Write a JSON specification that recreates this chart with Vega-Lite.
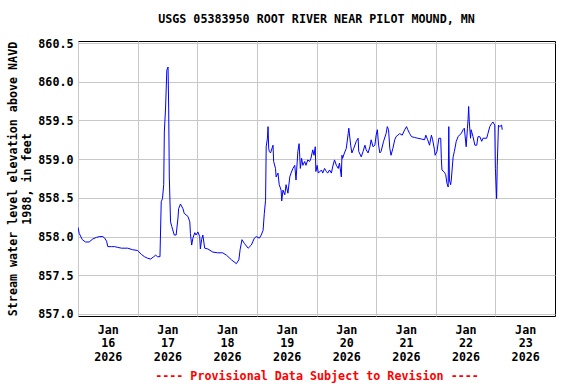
{
  "$schema": "https://vega.github.io/schema/vega-lite/v6.json",
  "autosize": {"type": "none"},
  "padding": {"left": 78, "top": 41, "right": 21, "bottom": 68},
  "width": 477,
  "height": 275,
  "background": "white",
  "title": {
    "text": "USGS 05383950 ROOT RIVER NEAR PILOT MOUND, MN",
    "font": "DejaVu Sans Mono",
    "fontSize": 11.7,
    "fontWeight": "bold",
    "color": "black",
    "offset": 12,
    "anchor": "middle"
  },
  "config": {
    "view": {"stroke": "black", "strokeWidth": 1},
    "axis": {
      "labelFont": "DejaVu Sans Mono",
      "labelFontWeight": "bold",
      "labelFontSize": 11.7,
      "labelColor": "black",
      "titleFont": "DejaVu Sans Mono",
      "titleFontWeight": "bold",
      "titleFontSize": 11.7,
      "titleColor": "black",
      "gridColor": "#c8c8c8",
      "gridWidth": 1,
      "gridOpacity": 1,
      "domain": false,
      "ticks": false
    }
  },
  "data": {
    "values": [
      {"t": "2026-01-16T00:00", "v": 858.12},
      {"t": "2026-01-16T00:30", "v": 858.04},
      {"t": "2026-01-16T01:45", "v": 857.96},
      {"t": "2026-01-16T03:00", "v": 857.93},
      {"t": "2026-01-16T04:30", "v": 857.93},
      {"t": "2026-01-16T06:00", "v": 857.97},
      {"t": "2026-01-16T07:30", "v": 857.99},
      {"t": "2026-01-16T08:45", "v": 858.0},
      {"t": "2026-01-16T10:00", "v": 858.0},
      {"t": "2026-01-16T10:45", "v": 857.98},
      {"t": "2026-01-16T11:30", "v": 857.94},
      {"t": "2026-01-16T12:00", "v": 857.87},
      {"t": "2026-01-16T13:30", "v": 857.87},
      {"t": "2026-01-16T14:45", "v": 857.87},
      {"t": "2026-01-16T16:00", "v": 857.86},
      {"t": "2026-01-16T17:30", "v": 857.85},
      {"t": "2026-01-16T20:00", "v": 857.85},
      {"t": "2026-01-16T22:00", "v": 857.83},
      {"t": "2026-01-17T00:00", "v": 857.82},
      {"t": "2026-01-17T01:30", "v": 857.77},
      {"t": "2026-01-17T02:45", "v": 857.74},
      {"t": "2026-01-17T04:00", "v": 857.72},
      {"t": "2026-01-17T05:15", "v": 857.71},
      {"t": "2026-01-17T06:30", "v": 857.74},
      {"t": "2026-01-17T07:15", "v": 857.76},
      {"t": "2026-01-17T08:00", "v": 857.74},
      {"t": "2026-01-17T09:00", "v": 857.74},
      {"t": "2026-01-17T09:30", "v": 858.45},
      {"t": "2026-01-17T10:00", "v": 858.49},
      {"t": "2026-01-17T10:30", "v": 858.67},
      {"t": "2026-01-17T10:45", "v": 859.35},
      {"t": "2026-01-17T11:15", "v": 859.66},
      {"t": "2026-01-17T11:45", "v": 860.15},
      {"t": "2026-01-17T12:15", "v": 860.19},
      {"t": "2026-01-17T12:30", "v": 859.66},
      {"t": "2026-01-17T12:45", "v": 858.77},
      {"t": "2026-01-17T13:15", "v": 858.19},
      {"t": "2026-01-17T13:45", "v": 858.13},
      {"t": "2026-01-17T14:45", "v": 858.02},
      {"t": "2026-01-17T15:30", "v": 858.02},
      {"t": "2026-01-17T16:15", "v": 858.24},
      {"t": "2026-01-17T16:30", "v": 858.36},
      {"t": "2026-01-17T17:15", "v": 858.42},
      {"t": "2026-01-17T18:15", "v": 858.36},
      {"t": "2026-01-17T18:45", "v": 858.3},
      {"t": "2026-01-17T20:15", "v": 858.26},
      {"t": "2026-01-17T21:00", "v": 858.19},
      {"t": "2026-01-17T21:15", "v": 858.04},
      {"t": "2026-01-17T21:45", "v": 857.89},
      {"t": "2026-01-17T22:15", "v": 857.98},
      {"t": "2026-01-17T23:00", "v": 858.05},
      {"t": "2026-01-17T23:30", "v": 858.02},
      {"t": "2026-01-18T00:15", "v": 858.06},
      {"t": "2026-01-18T01:00", "v": 858.0},
      {"t": "2026-01-18T01:15", "v": 857.84},
      {"t": "2026-01-18T01:45", "v": 857.96},
      {"t": "2026-01-18T02:15", "v": 858.02},
      {"t": "2026-01-18T03:00", "v": 857.85},
      {"t": "2026-01-18T04:15", "v": 857.84},
      {"t": "2026-01-18T06:15", "v": 857.8},
      {"t": "2026-01-18T08:15", "v": 857.79},
      {"t": "2026-01-18T10:15", "v": 857.79},
      {"t": "2026-01-18T11:45", "v": 857.76},
      {"t": "2026-01-18T13:45", "v": 857.7},
      {"t": "2026-01-18T15:45", "v": 857.65},
      {"t": "2026-01-18T16:45", "v": 857.7},
      {"t": "2026-01-18T17:15", "v": 857.83},
      {"t": "2026-01-18T18:00", "v": 857.96},
      {"t": "2026-01-18T19:00", "v": 857.91},
      {"t": "2026-01-18T20:30", "v": 857.85},
      {"t": "2026-01-18T21:45", "v": 857.89},
      {"t": "2026-01-18T23:00", "v": 857.98},
      {"t": "2026-01-18T23:45", "v": 858.0},
      {"t": "2026-01-19T01:00", "v": 857.98},
      {"t": "2026-01-19T01:45", "v": 858.02},
      {"t": "2026-01-19T02:30", "v": 858.08},
      {"t": "2026-01-19T03:00", "v": 858.3},
      {"t": "2026-01-19T03:30", "v": 858.47},
      {"t": "2026-01-19T03:45", "v": 859.16},
      {"t": "2026-01-19T04:15", "v": 859.27},
      {"t": "2026-01-19T04:30", "v": 859.42},
      {"t": "2026-01-19T04:45", "v": 859.14},
      {"t": "2026-01-19T05:00", "v": 859.1},
      {"t": "2026-01-19T05:30", "v": 859.08},
      {"t": "2026-01-19T06:30", "v": 859.18},
      {"t": "2026-01-19T06:45", "v": 858.97},
      {"t": "2026-01-19T07:30", "v": 858.88},
      {"t": "2026-01-19T07:45", "v": 858.77},
      {"t": "2026-01-19T08:30", "v": 858.82},
      {"t": "2026-01-19T09:00", "v": 858.67},
      {"t": "2026-01-19T09:45", "v": 858.6},
      {"t": "2026-01-19T10:00", "v": 858.46},
      {"t": "2026-01-19T10:30", "v": 858.6},
      {"t": "2026-01-19T11:15", "v": 858.54},
      {"t": "2026-01-19T11:45", "v": 858.67},
      {"t": "2026-01-19T12:30", "v": 858.56},
      {"t": "2026-01-19T13:15", "v": 858.77},
      {"t": "2026-01-19T13:45", "v": 858.82},
      {"t": "2026-01-19T14:30", "v": 858.88},
      {"t": "2026-01-19T15:15", "v": 858.92},
      {"t": "2026-01-19T15:45", "v": 858.73},
      {"t": "2026-01-19T16:30", "v": 859.1},
      {"t": "2026-01-19T17:00", "v": 859.2},
      {"t": "2026-01-19T17:30", "v": 858.88},
      {"t": "2026-01-19T18:00", "v": 859.01},
      {"t": "2026-01-19T18:30", "v": 858.92},
      {"t": "2026-01-19T19:15", "v": 858.97},
      {"t": "2026-01-19T19:45", "v": 858.92},
      {"t": "2026-01-19T20:30", "v": 858.99},
      {"t": "2026-01-19T21:15", "v": 858.97},
      {"t": "2026-01-19T21:45", "v": 859.01},
      {"t": "2026-01-19T22:30", "v": 859.12},
      {"t": "2026-01-19T23:00", "v": 859.05},
      {"t": "2026-01-19T23:30", "v": 859.16},
      {"t": "2026-01-19T23:45", "v": 858.84},
      {"t": "2026-01-20T00:15", "v": 858.92},
      {"t": "2026-01-20T00:45", "v": 858.82},
      {"t": "2026-01-20T02:00", "v": 858.86},
      {"t": "2026-01-20T02:30", "v": 858.82},
      {"t": "2026-01-20T03:15", "v": 858.88},
      {"t": "2026-01-20T04:00", "v": 858.84},
      {"t": "2026-01-20T04:30", "v": 858.82},
      {"t": "2026-01-20T05:15", "v": 858.86},
      {"t": "2026-01-20T06:00", "v": 858.82},
      {"t": "2026-01-20T06:30", "v": 858.9},
      {"t": "2026-01-20T07:15", "v": 858.99},
      {"t": "2026-01-20T08:00", "v": 858.92},
      {"t": "2026-01-20T08:45", "v": 858.88},
      {"t": "2026-01-20T09:15", "v": 858.95},
      {"t": "2026-01-20T10:00", "v": 858.77},
      {"t": "2026-01-20T10:15", "v": 859.05},
      {"t": "2026-01-20T10:30", "v": 859.01},
      {"t": "2026-01-20T11:15", "v": 859.08},
      {"t": "2026-01-20T12:00", "v": 859.14},
      {"t": "2026-01-20T12:45", "v": 859.33},
      {"t": "2026-01-20T13:00", "v": 859.4},
      {"t": "2026-01-20T13:45", "v": 859.18},
      {"t": "2026-01-20T14:15", "v": 859.08},
      {"t": "2026-01-20T15:00", "v": 859.14},
      {"t": "2026-01-20T16:00", "v": 859.23},
      {"t": "2026-01-20T16:45", "v": 859.27},
      {"t": "2026-01-20T17:00", "v": 859.1},
      {"t": "2026-01-20T18:00", "v": 859.03},
      {"t": "2026-01-20T18:45", "v": 859.1},
      {"t": "2026-01-20T19:30", "v": 859.18},
      {"t": "2026-01-20T20:00", "v": 859.12},
      {"t": "2026-01-20T20:45", "v": 859.08},
      {"t": "2026-01-20T21:30", "v": 859.16},
      {"t": "2026-01-20T22:00", "v": 859.25},
      {"t": "2026-01-20T22:45", "v": 859.16},
      {"t": "2026-01-20T23:30", "v": 859.18},
      {"t": "2026-01-21T00:00", "v": 859.31},
      {"t": "2026-01-21T00:30", "v": 859.38},
      {"t": "2026-01-21T01:00", "v": 859.18},
      {"t": "2026-01-21T01:30", "v": 859.08},
      {"t": "2026-01-21T02:00", "v": 859.1},
      {"t": "2026-01-21T03:00", "v": 859.23},
      {"t": "2026-01-21T04:00", "v": 859.33},
      {"t": "2026-01-21T04:30", "v": 859.42},
      {"t": "2026-01-21T05:00", "v": 859.38},
      {"t": "2026-01-21T05:30", "v": 859.14},
      {"t": "2026-01-21T06:00", "v": 859.05},
      {"t": "2026-01-21T06:45", "v": 859.14},
      {"t": "2026-01-21T07:30", "v": 859.25},
      {"t": "2026-01-21T08:00", "v": 859.29},
      {"t": "2026-01-21T08:45", "v": 859.31},
      {"t": "2026-01-21T09:30", "v": 859.33},
      {"t": "2026-01-21T10:30", "v": 859.31},
      {"t": "2026-01-21T11:30", "v": 859.38},
      {"t": "2026-01-21T12:15", "v": 859.42},
      {"t": "2026-01-21T12:45", "v": 859.38},
      {"t": "2026-01-21T13:30", "v": 859.33},
      {"t": "2026-01-21T14:15", "v": 859.29},
      {"t": "2026-01-21T15:30", "v": 859.28},
      {"t": "2026-01-21T16:45", "v": 859.27},
      {"t": "2026-01-21T18:15", "v": 859.26},
      {"t": "2026-01-21T19:30", "v": 859.25},
      {"t": "2026-01-21T20:00", "v": 859.31},
      {"t": "2026-01-21T20:45", "v": 859.25},
      {"t": "2026-01-21T21:30", "v": 859.18},
      {"t": "2026-01-21T22:15", "v": 859.31},
      {"t": "2026-01-21T22:45", "v": 859.25},
      {"t": "2026-01-21T23:30", "v": 859.12},
      {"t": "2026-01-21T23:45", "v": 859.05},
      {"t": "2026-01-22T00:30", "v": 859.1},
      {"t": "2026-01-22T01:15", "v": 859.27},
      {"t": "2026-01-22T02:00", "v": 859.27},
      {"t": "2026-01-22T02:15", "v": 859.01},
      {"t": "2026-01-22T02:30", "v": 858.86},
      {"t": "2026-01-22T03:30", "v": 858.83},
      {"t": "2026-01-22T04:00", "v": 858.8},
      {"t": "2026-01-22T04:30", "v": 858.69},
      {"t": "2026-01-22T05:00", "v": 858.64},
      {"t": "2026-01-22T05:15", "v": 859.42},
      {"t": "2026-01-22T05:30", "v": 858.73},
      {"t": "2026-01-22T06:00", "v": 858.67},
      {"t": "2026-01-22T06:15", "v": 858.73},
      {"t": "2026-01-22T07:00", "v": 859.03},
      {"t": "2026-01-22T07:30", "v": 859.1},
      {"t": "2026-01-22T08:15", "v": 859.23},
      {"t": "2026-01-22T09:00", "v": 859.29},
      {"t": "2026-01-22T09:30", "v": 859.31},
      {"t": "2026-01-22T10:15", "v": 859.33},
      {"t": "2026-01-22T11:00", "v": 859.38},
      {"t": "2026-01-22T11:30", "v": 859.4},
      {"t": "2026-01-22T12:15", "v": 859.16},
      {"t": "2026-01-22T12:45", "v": 859.4},
      {"t": "2026-01-22T13:00", "v": 859.51},
      {"t": "2026-01-22T13:15", "v": 859.68},
      {"t": "2026-01-22T13:30", "v": 859.48},
      {"t": "2026-01-22T14:00", "v": 859.27},
      {"t": "2026-01-22T14:15", "v": 859.38},
      {"t": "2026-01-22T15:00", "v": 859.29},
      {"t": "2026-01-22T15:45", "v": 859.18},
      {"t": "2026-01-22T16:30", "v": 859.18},
      {"t": "2026-01-22T17:00", "v": 859.29},
      {"t": "2026-01-22T17:45", "v": 859.29},
      {"t": "2026-01-22T18:30", "v": 859.23},
      {"t": "2026-01-22T19:00", "v": 859.27},
      {"t": "2026-01-22T20:30", "v": 859.27},
      {"t": "2026-01-22T21:00", "v": 859.33},
      {"t": "2026-01-22T21:45", "v": 859.42},
      {"t": "2026-01-22T22:30", "v": 859.46},
      {"t": "2026-01-22T23:00", "v": 859.48},
      {"t": "2026-01-22T23:45", "v": 859.44},
      {"t": "2026-01-23T00:00", "v": 858.88},
      {"t": "2026-01-23T00:30", "v": 858.49},
      {"t": "2026-01-23T00:45", "v": 858.92},
      {"t": "2026-01-23T01:15", "v": 859.44},
      {"t": "2026-01-23T01:45", "v": 859.42},
      {"t": "2026-01-23T02:30", "v": 859.44},
      {"t": "2026-01-23T02:45", "v": 859.38}
    ]
  },
  "mark": {"type": "line", "color": "#0000ff", "strokeWidth": 1, "clip": true},
  "encoding": {
    "x": {
      "field": "t",
      "type": "temporal",
      "scale": {"domain": [{"year": 2026, "month": 1, "date": 16}, {"year": 2026, "month": 1, "date": 24}]},
      "axis": {
        "values": [
          {"year": 2026, "month": 1, "date": 16},
          {"year": 2026, "month": 1, "date": 17},
          {"year": 2026, "month": 1, "date": 18},
          {"year": 2026, "month": 1, "date": 19},
          {"year": 2026, "month": 1, "date": 20},
          {"year": 2026, "month": 1, "date": 21},
          {"year": 2026, "month": 1, "date": 22},
          {"year": 2026, "month": 1, "date": 23}
        ],
        "labelExpr": "[timeFormat(datum.value, '%b'), timeFormat(datum.value, '%d'), timeFormat(datum.value, '%Y')]",
        "labelOffset": 29.8,
        "labelAlign": "center",
        "labelBaseline": "top",
        "labelLineHeight": 13.5,
        "labelPadding": 8,
        "labelFlush": false,
        "labelOverlap": false,
        "title": "---- Provisional Data Subject to Revision ----",
        "titleColor": "#ff0000",
        "titlePadding": 8
      }
    },
    "y": {
      "field": "v",
      "type": "quantitative",
      "scale": {"domain": [856.974, 860.526], "nice": false, "zero": false},
      "axis": {
        "values": [857, 857.5, 858, 858.5, 859, 859.5, 860, 860.5],
        "format": ".1f",
        "labelPadding": 5,
        "title": ["Stream water level elevation above NAVD", "1988, in feet"],
        "titlePadding": 5,
        "titleLineHeight": 14
      }
    }
  }
}
